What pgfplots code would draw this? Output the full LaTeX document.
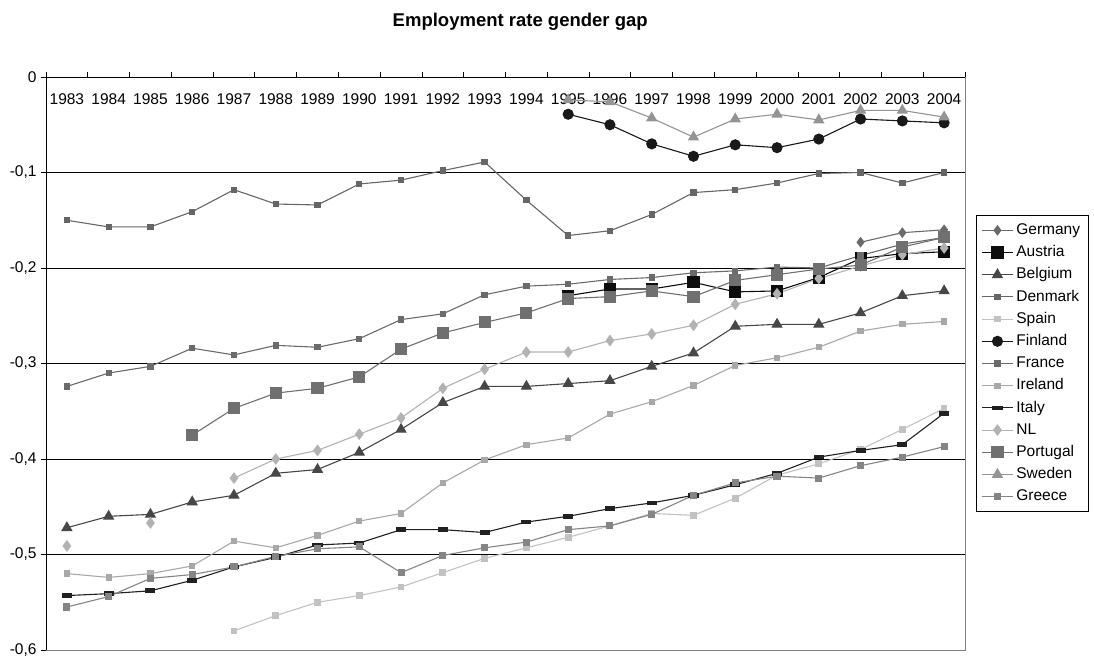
\documentclass[border=0pt]{standalone}
\usepackage{fontspec}
\setmainfont{Liberation Sans}
\usepackage{pgfplots}
\pgfplotsset{compat=1.18}

\definecolor{cGer}{gray}{0.42}
\definecolor{cAut}{gray}{0.05}
\definecolor{cBel}{gray}{0.28}
\definecolor{cDen}{gray}{0.40}
\definecolor{cSpa}{gray}{0.76}
\definecolor{cFin}{gray}{0.10}
\definecolor{cFra}{gray}{0.42}
\definecolor{cIre}{gray}{0.66}
\definecolor{cIta}{gray}{0.13}
\definecolor{cNL}{gray}{0.70}
\definecolor{cPor}{gray}{0.44}
\definecolor{cSwe}{gray}{0.58}
\definecolor{cGre}{gray}{0.52}

\begin{document}
\begin{tikzpicture}
\useasboundingbox (-46pt,-14pt) rectangle (1048pt,650pt);
\begin{axis}[
  at={(0pt,0pt)}, anchor=south west,
  scale only axis, width=919pt, height=573pt,
  xmin=1982.5, xmax=2004.5, ymin=-0.6, ymax=0,
  clip=false,
  axis x line=top, axis y line=left,
  axis line style={-, black, line width=0.8pt},
  tick align=outside,
  major tick length=0pt, minor tick length=5pt,
  tick style={black, line width=0.8pt},
  xtick={1983,1984,1985,1986,1987,1988,1989,1990,1991,1992,1993,1994,1995,1996,1997,1998,1999,2000,2001,2002,2003,2004},
  xticklabels={1983,1984,1985,1986,1987,1988,1989,1990,1991,1992,1993,1994,1995,1996,1997,1998,1999,2000,2001,2002,2003,2004},
  minor xtick={1982.5,1983.5,1984.5,1985.5,1986.5,1987.5,1988.5,1989.5,1990.5,1991.5,1992.5,1993.5,1994.5,1995.5,1996.5,1997.5,1998.5,1999.5,2000.5,2001.5,2002.5,2003.5,2004.5},
  ytick={-0.6,-0.5,-0.4,-0.3,-0.2,-0.1,0},
  yticklabels={{-0,6},{-0,5},{-0,4},{-0,3},{-0,2},{-0,1},0},
  minor ytick={-0.6,-0.5,-0.4,-0.3,-0.2,-0.1,0},
  xticklabel style={anchor=north, yshift=-13pt},
  yticklabel style={anchor=east, xshift=-6pt},
  ymajorgrids, grid style={black, line width=0.8pt},
  tick label style={font=\fontsize{15.5}{18}\selectfont},
  title={Employment rate gender gap},
  every axis title/.style={at={(0.516,1)}, anchor=base, yshift=51pt,
    font=\bfseries\fontsize{18.5}{22}\selectfont},
  unbounded coords=jump,
  every axis plot/.append style={line width=1.1pt},
  legend style={at={(1,0.5)}, anchor=west, xshift=11pt, draw=black,
    line width=0.8pt, font=\fontsize{15.5}{18}\selectfont,
    row sep=0pt, inner xsep=5pt, inner ysep=4pt,
    nodes={text height=12.5pt, text depth=4pt, inner sep=2.85pt, anchor=west}},
  legend cell align=left,
  legend image code/.code={\draw[mark repeat=2,mark phase=2]
    plot coordinates {(0pt,0pt) (15.5pt,0pt) (31pt,0pt)};},
]
% Germany
\addplot[color=cGer, mark=diamond*, mark size=4.5pt] coordinates {
(2002,-0.173) (2003,-0.163) (2004,-0.160)};
% Austria
\addplot[color=cAut, mark=square*, mark size=5.5pt] coordinates {
(1995,-0.229) (1996,-0.222) (1997,-0.222) (1998,-0.215) (1999,-0.225)
(2000,-0.224) (2001,-0.210) (2002,-0.190) (2003,-0.185) (2004,-0.183)};
% Belgium
\addplot[color=cBel, mark=triangle*, mark size=5.5pt] coordinates {
(1983,-0.472) (1984,-0.460) (1985,-0.458) (1986,-0.445) (1987,-0.438)
(1988,-0.415) (1989,-0.411) (1990,-0.393) (1991,-0.369) (1992,-0.341)
(1993,-0.324) (1994,-0.324) (1995,-0.321) (1996,-0.318) (1997,-0.303)
(1998,-0.289) (1999,-0.261) (2000,-0.259) (2001,-0.259) (2002,-0.247)
(2003,-0.229) (2004,-0.224)};
% Denmark
\addplot[color=cDen, mark=square*, mark size=2.6pt] coordinates {
(1983,-0.150) (1984,-0.157) (1985,-0.157) (1986,-0.141) (1987,-0.118)
(1988,-0.133) (1989,-0.134) (1990,-0.112) (1991,-0.108) (1992,-0.098)
(1993,-0.089) (1994,-0.129) (1995,-0.166) (1996,-0.161) (1997,-0.144)
(1998,-0.121) (1999,-0.118) (2000,-0.111) (2001,-0.101) (2002,-0.100)
(2003,-0.111) (2004,-0.100)};
% Spain
\addplot[color=cSpa, mark=square*, mark size=2.8pt] coordinates {
(1987,-0.580) (1988,-0.564) (1989,-0.550) (1990,-0.543) (1991,-0.534)
(1992,-0.519) (1993,-0.504) (1994,-0.493) (1995,-0.482) (1996,-0.470)
(1997,-0.457) (1998,-0.459) (1999,-0.441) (2000,-0.417) (2001,-0.405)
(2002,-0.390) (2003,-0.369) (2004,-0.347)};
% Finland
\addplot[color=cFin, mark=*, mark size=5pt] coordinates {
(1995,-0.039) (1996,-0.050) (1997,-0.070) (1998,-0.083) (1999,-0.071)
(2000,-0.074) (2001,-0.065) (2002,-0.044) (2003,-0.046) (2004,-0.048)};
% France
\addplot[color=cFra, mark=square*, mark size=2.6pt] coordinates {
(1983,-0.324) (1984,-0.310) (1985,-0.303) (1986,-0.284) (1987,-0.291)
(1988,-0.281) (1989,-0.283) (1990,-0.274) (1991,-0.254) (1992,-0.248)
(1993,-0.228) (1994,-0.219) (1995,-0.217) (1996,-0.212) (1997,-0.210)
(1998,-0.205) (1999,-0.203) (2000,-0.199) (2001,-0.200) (2002,-0.187)
(2003,-0.175) (2004,-0.168)};
% Ireland
\addplot[color=cIre, mark=square*, mark size=2.6pt] coordinates {
(1983,-0.520) (1984,-0.524) (1985,-0.520) (1986,-0.512) (1987,-0.486)
(1988,-0.493) (1989,-0.480) (1990,-0.465) (1991,-0.457) (1992,-0.425)
(1993,-0.401) (1994,-0.385) (1995,-0.378) (1996,-0.353) (1997,-0.340)
(1998,-0.323) (1999,-0.302) (2000,-0.294) (2001,-0.283) (2002,-0.266)
(2003,-0.259) (2004,-0.256)};
% Italy
\addplot[color=cIta, mark=square*, mark size=4.5pt, mark options={yscale=0.4}] coordinates {
(1983,-0.543) (1984,-0.541) (1985,-0.538) (1986,-0.527) (1987,-0.513)
(1988,-0.503) (1989,-0.490) (1990,-0.488) (1991,-0.474) (1992,-0.474)
(1993,-0.477) (1994,-0.466) (1995,-0.460) (1996,-0.452) (1997,-0.446)
(1998,-0.438) (1999,-0.427) (2000,-0.415) (2001,-0.398) (2002,-0.391)
(2003,-0.385) (2004,-0.352)};
% NL
\addplot[color=cNL, mark=diamond*, mark size=5pt] coordinates {
(1983,-0.491) (1984,nan) (1985,-0.467) (1986,nan) (1987,-0.420)
(1988,-0.400) (1989,-0.391) (1990,-0.374) (1991,-0.357) (1992,-0.326)
(1993,-0.306) (1994,-0.288) (1995,-0.288) (1996,-0.276) (1997,-0.269)
(1998,-0.260) (1999,-0.238) (2000,-0.227) (2001,-0.211) (2002,-0.198)
(2003,-0.186) (2004,-0.179)};
% Portugal
\addplot[color=cPor, mark=square*, mark size=5.5pt] coordinates {
(1986,-0.375) (1987,-0.347) (1988,-0.331) (1989,-0.326) (1990,-0.314)
(1991,-0.285) (1992,-0.268) (1993,-0.257) (1994,-0.247) (1995,-0.232)
(1996,-0.230) (1997,-0.224) (1998,-0.230) (1999,-0.213) (2000,-0.207)
(2001,-0.201) (2002,-0.197) (2003,-0.178) (2004,-0.168)};
% Sweden
\addplot[color=cSwe, mark=triangle*, mark size=5.5pt] coordinates {
(1995,-0.024) (1996,-0.026) (1997,-0.043) (1998,-0.063) (1999,-0.044)
(2000,-0.039) (2001,-0.045) (2002,-0.035) (2003,-0.035) (2004,-0.042)};
% Greece
\addplot[color=cGre, mark=square*, mark size=3pt] coordinates {
(1983,-0.555) (1984,-0.544) (1985,-0.525) (1986,-0.521) (1987,-0.513)
(1988,-0.502) (1989,-0.494) (1990,-0.492) (1991,-0.519) (1992,-0.501)
(1993,-0.493) (1994,-0.487) (1995,-0.474) (1996,-0.470) (1997,-0.458)
(1998,-0.438) (1999,-0.425) (2000,-0.418) (2001,-0.420) (2002,-0.407)
(2003,-0.398) (2004,-0.387)};
\legend{Germany,Austria,Belgium,Denmark,Spain,Finland,France,Ireland,Italy,NL,Portugal,Sweden,Greece}
\draw[gray, line width=0.8pt] (rel axis cs:1,1) -- (rel axis cs:1,0) -- (rel axis cs:0,0);
\end{axis}
\end{tikzpicture}
\end{document}
